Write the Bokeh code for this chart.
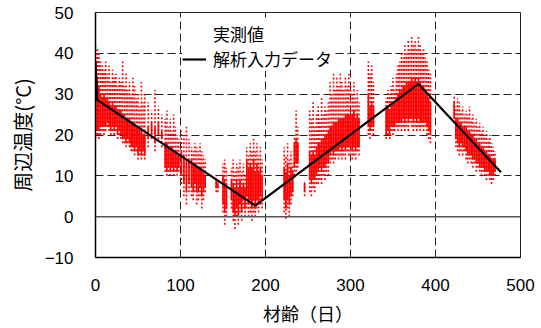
from bokeh.plotting import figure
from bokeh.models import Legend, LegendItem, Span, FixedTicker, ColumnDataSource
from bokeh.embed import file_html
from bokeh.resources import INLINE

# Analysis input data (black line): age [day], temperature [°C]
line_age = [0, 2, 188, 380, 477]
line_temp = [38.0, 28.6, 2.7, 32.5, 10.9]

# Measured data (red): per age, overall low/high and dense-core low/high
meas_age = [0, 2, 4, 6,
            8, 10, 12, 14, 16, 18, 20, 22, 24, 26, 28,
            30, 32, 34, 36, 38, 40, 42, 44,
            46, 48, 50, 52, 54, 56, 58,
            62, 66, 70, 74, 78,
            82, 84, 86, 88, 90, 92, 94, 96, 98,
            101, 104, 107, 110,
            113, 115, 117, 119, 121, 123, 125, 127, 129,
            142, 144,
            150, 152, 154,
            160, 162, 164, 166, 168, 170, 172, 174, 176,
            178, 180, 182, 184, 186, 188, 190, 192, 194, 196,
            222, 224, 226, 228, 230, 232,
            234, 236, 238,
            246,
            252, 254, 256, 258, 260,
            262, 264, 266, 268, 270, 272, 274,
            276, 278, 280, 282, 284, 286, 288, 290, 292, 294, 296, 298,
            300, 302, 304, 306, 308, 310,
            321, 323, 325, 327,
            342, 344, 346, 348, 350, 352, 354, 356, 358, 360, 362, 364, 366, 368, 370,
            372, 374, 376, 378, 380, 382, 384, 386, 388, 390, 392, 394,
            422, 424, 426, 428, 430, 432, 434,
            436, 438, 440, 442, 444, 446, 448, 450, 452, 454, 456, 458, 460, 462, 464, 466, 468, 470]
meas_lo = [19, 20, 19, 20,
           21, 20, 21, 22, 21, 20, 21, 20, 21, 19, 20,
           19, 18, 18, 17, 18, 17, 16, 16,
           15, 16, 14, 15, 14, 15, 14,
           17, 19, 16, 19, 17,
           11, 10, 11, 10, 11, 10, 11, 10, 11,
           8, 5, 3, 6,
           5, 4, 6, 3, 4, 5, 2, 4, 6,
           6, 6,
           1, -2, 0,
           2, -1, -3, 0, -2, 1, -1, 2, 0,
           2, 0, 1, -1, 1, 0, 2, 1, 3, 2,
           1, -0.5, 2, 0, 3, 5,
           10, 11, 12,
           5,
           6, 5, 7, 6, 8,
           8, 9, 8, 10, 9, 11, 10,
           13, 14, 13, 14, 15, 14, 15, 14, 15, 14, 16, 15,
           15, 14, 15, 14, 16, 15,
           20, 19, 21, 20,
           19, 20, 19, 21, 20, 21, 22, 21, 22, 21, 22, 21, 22, 21, 23,
           22, 21, 22, 21, 22, 21, 22, 21, 22, 20, 19, 18,
           23, 17, 16, 15, 16, 15, 16,
           14, 13, 14, 13, 12, 13, 11, 12, 11, 10, 11, 10, 9, 10, 9, 8, 9, 10]
meas_hi = [42, 41, 40, 38,
           37, 36, 38, 35, 37, 33, 36, 34, 35, 32, 34,
           33, 38, 32, 35, 31, 33, 30, 34,
           32, 29, 30, 27, 33, 28, 30,
           28, 26, 31, 27, 25,
           24, 26, 22, 24, 21, 25, 22, 20, 19,
           21, 20, 22, 19,
           17, 16, 18, 17, 16, 18, 16, 15, 14,
           10, 9,
           13, 14, 12,
           12, 14, 11, 13, 12, 14, 11, 13, 10,
           17, 15, 18, 16, 19, 16, 18, 15, 17, 14,
           17, 15, 18, 14, 16, 13,
           20, 26, 22,
           9,
           26, 24, 28, 22, 25,
           27, 24, 29, 25, 27, 26, 28,
           33, 30, 35, 31, 34, 32, 35, 33, 31, 34, 32, 35,
           32, 30, 33, 29, 31, 28,
           38, 35, 37, 33,
           29, 31, 30, 32, 34, 31, 35, 37, 38, 40, 39, 42, 40, 43, 41,
           44, 42, 43, 41, 44, 42, 40, 41, 39, 38, 36, 35,
           30, 27, 29, 28, 26, 27, 25,
           26, 25, 27, 24, 25, 23, 24, 22, 23, 21, 22, 20, 21, 19, 20, 18, 17, 16]
core_lo = [21, 21, 21, 22,
           22, 22, 22, 23, 22, 21, 22, 21, 22, 20, 21,
           20, 19, 19, 18, 19, 18, 17, 17,
           16, 17, 15, 16, 15, 16, 15,
           19, 20, 18, 20, 19,
           12, 11, 12, 11, 12, 11, 12, 11, 12,
           10, 8, 6, 8,
           7, 6, 8, 6, 6, 7, 5, 6, 7,
           7, 7,
           3, 1, 2,
           4, 1, 0, 2, 0, 3, 1, 4, 2,
           5, 3, 4, 2, 4, 2, 4, 3, 5, 4,
           4, 2, 4, 3, 5, 6,
           12, 13, 13,
           6,
           9, 8, 9, 9, 10,
           11, 12, 11, 12, 12, 13, 13,
           15, 16, 15, 16, 16, 16, 17, 16, 17, 16, 17, 17,
           17, 16, 17, 16, 17, 17,
           22, 21, 22, 22,
           20, 21, 20, 22, 22, 22, 23, 23, 23, 23, 24, 23, 24, 23, 24,
           24, 23, 24, 23, 24, 23, 23, 23, 23, 22, 21, 20,
           24, 19, 18, 17, 18, 17, 17,
           16, 15, 15, 15, 14, 14, 13, 13, 12, 12, 12, 11, 11, 11, 10, 10, 10, 11]
core_hi = [38, 34, 32, 30,
           29, 30, 29, 29, 28, 27, 28, 27, 27, 26, 26,
           26, 25, 25, 24, 24, 24, 23, 23,
           22, 22, 22, 21, 21, 20, 20,
           22, 23, 22, 23, 21,
           18, 18, 17, 16, 17, 16, 16, 15, 15,
           16, 15, 14, 14,
           14, 13, 13, 12, 12, 12, 11, 11, 10,
           9, 8,
           10, 9, 8,
           9, 8, 7, 9, 7, 9, 7, 8, 7,
           14, 12, 13, 12, 14, 11, 13, 11, 12, 10,
           12, 11, 13, 10, 12, 11,
           18, 19, 18,
           8,
           16, 15, 16, 15, 17,
           18, 18, 19, 19, 20, 20, 21,
           22, 22, 23, 23, 23, 24, 24, 24, 24, 25, 25, 25,
           25, 25, 26, 24, 25, 24,
           30, 27, 28, 27,
           26, 27, 26, 28, 28, 28, 29, 30, 31, 31, 32, 32, 33, 33, 33,
           34, 33, 34, 33, 34, 33, 32, 32, 31, 30, 29, 28,
           28, 24, 24, 23, 23, 22, 22,
           22, 21, 21, 20, 20, 19, 19, 18, 18, 17, 17, 16, 16, 15, 15, 14, 14, 14]

x_ticks = [0, 100, 200, 300, 400, 500]
y_ticks = [-10, 0, 10, 20, 30, 40, 50]

CJK = "Noto Sans CJK JP"
NUM = "Liberation Sans"
RED = "#ff0000"

p = figure(frame_width=425, frame_height=245, x_range=(0, 500), y_range=(-10, 50),
           output_backend="svg", toolbar_location=None,
           min_border_left=95, min_border_right=20, min_border_top=12, min_border_bottom=70)
p.background_fill_color = "white"
p.border_fill_color = "white"
p.outline_line_color = "#222222"
p.outline_line_width = 1

src = ColumnDataSource(dict(x=meas_age, lo=meas_lo, hi=meas_hi, clo=core_lo, chi=core_hi))
p.segment(x0="x", y0="lo", x1="x", y1="hi", source=src, line_color=RED,
          line_width=1.6, line_dash="2 2")
p.segment(x0="x", y0="clo", x1="x", y1="chi", source=src, line_color=RED,
          line_width=1.7)

zero = Span(location=0, dimension="width", line_color="#555555", line_width=1.5)
p.add_layout(zero)

line_r = p.line(line_age, line_temp, line_color="black", line_width=2.2)
dot_r = p.scatter(x=[], y=[], marker="circle", size=5, fill_color=RED, line_color=RED)

for ax in (p.xaxis[0], p.yaxis[0]):
    ax.major_tick_out = 0
    ax.major_tick_in = 0
    ax.minor_tick_out = 0
    ax.minor_tick_in = 0
    ax.major_label_standoff = 22
    ax.major_label_text_font = NUM
    ax.major_label_text_font_size = "17px"
    ax.major_label_text_color = "black"
    ax.axis_line_color = "black"
    ax.axis_line_width = 1.5
    ax.axis_label_text_font = CJK
    ax.axis_label_text_font_style = "normal"
    ax.axis_label_text_color = "black"

p.xaxis.major_label_standoff = 21
p.xaxis.ticker = FixedTicker(ticks=x_ticks)
p.yaxis.ticker = FixedTicker(ticks=y_ticks)
p.yaxis.major_label_overrides = {-10: "\u221210"}
p.xaxis.axis_label = "材齢（日）"
p.yaxis.axis_label = "周辺温度(°C)"
p.xaxis.axis_label_text_font_size = "18px"
p.yaxis.axis_label_text_font_size = "20px"
p.xaxis.axis_label_standoff = 6
p.yaxis.axis_label_standoff = 5

for g in (p.xgrid[0], p.ygrid[0]):
    g.grid_line_color = "#222222"
    g.grid_line_width = 1
    g.grid_line_dash = "8 4"

legend = Legend(items=[LegendItem(label="実測値", renderers=[dot_r]),
                       LegendItem(label="解析入力データ", renderers=[line_r])],
                location=(87, 186), orientation="vertical",
                background_fill_color="white", background_fill_alpha=1.0,
                border_line_color=None, padding=0, margin=0, spacing=0,
                glyph_width=24, glyph_height=24, label_height=24, label_standoff=7,
                label_text_font=CJK, label_text_font_size="17px",
                label_text_color="black")
p.add_layout(legend)

open("out.html", "w").write(file_html(p, INLINE))
